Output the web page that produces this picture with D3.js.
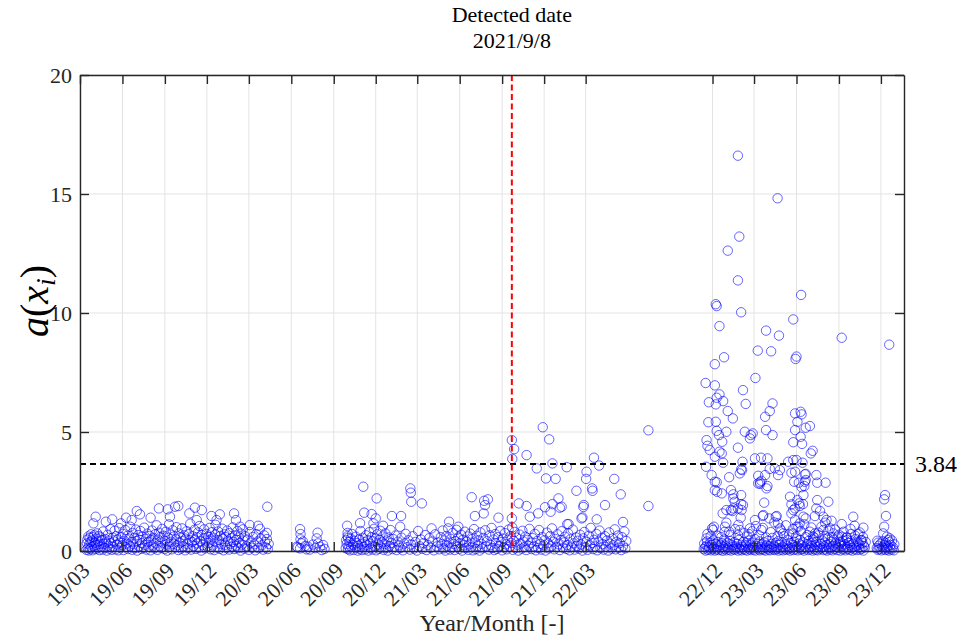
<!DOCTYPE html>
<html lang="en">
<head>
<meta charset="UTF-8" />
<title>Detected date</title>
<script src="https://cdnjs.cloudflare.com/ajax/libs/d3/7.8.5/d3.min.js"></script>
<style>
  body, html { margin: 0; padding: 0; background: #fff; }
  svg { display: block; }
  text { font-family: "Liberation Serif", "Times New Roman", serif; fill: #262626; }
</style>
</head>
<body>
<svg width="958" height="641"></svg>
<script>
// observation time is given as days after startDate
const startDate = "2019-03-01";
const endDay = 1786;
const tickMonths = ["2019-03", "2019-06", "2019-09", "2019-12", "2020-03", "2020-06", "2020-09",
  "2020-12", "2021-03", "2021-06", "2021-09", "2021-12", "2022-03", "2022-12", "2023-03",
  "2023-06", "2023-09", "2023-12"];
const yTicks = [0, 5, 10, 15, 20];
const thresholdValue = 3.66;
const thresholdLabel = "3.84";
const detectedLabel = "2021/9/8";
const detectedDay = 936;

// 2019/03 - 2020/04
const p1High = [[34,1.44],[29,1.16],[56,1.23],[70,1.33],[89,1.16],[100,1.40],[112,1.30],[123,1.68],[130,1.54],
  [153,1.40],[171,1.79],[190,1.75],[195,1.44],[206,1.86],[213,1.89],[237,1.58],[249,1.82],[253,1.30],[264,1.72],
  [285,1.47],[296,1.30],[303,1.54],[334,1.58],[338,1.30],[347,1.02],[368,1.09],[386,1.06],[406,1.86],[405,0.76]];
const p1Low = [[14,0.05],[15,0.32],[16,0.48],[17,0.12],[18,0.61],[19,0.02],[20,0.27],[21,0.55],[22,0.09],[23,0.38],
  [24,0.70],[25,0.15],[26,0.44],[27,0.03],[28,0.58],[30,0.21],[31,0.66],[32,0.35],[33,0.08],[35,0.52],[36,0.25],
  [37,0.74],[38,0.11],[40,0.41],[41,0.63],[42,0.04],[43,0.30],[45,0.57],[46,0.18],[48,0.46],[49,0.06],[50,0.82],
  [52,0.29],[53,0.13],[55,0.50],[57,0.36],[58,0.02],[60,0.68],[61,0.22],[63,0.44],[64,0.10],[66,0.92],[67,0.33],
  [69,0.05],[71,0.56],[72,0.19],[74,0.40],[75,0.85],[77,0.07],[78,0.62],[80,0.27],[82,0.48],[83,0.03],[85,0.96],
  [86,0.35],[88,0.14],[90,0.58],[91,0.24],[93,0.72],[94,0.04],[96,0.43],[98,0.88],[99,0.16],[101,0.31],[103,0.64],
  [104,0.08],[106,0.52],[108,0.21],[109,1.02],[111,0.37],[113,0.05],[114,0.76],[116,0.28],[118,0.55],[119,0.12],
  [121,0.90],[123,0.42],[124,0.02],[126,0.67],[128,0.19],[129,0.47],[131,0.84],[133,0.09],[134,0.33],[136,0.60],
  [138,0.14],[139,0.98],[141,0.26],[143,0.51],[144,0.06],[146,0.73],[148,0.38],[149,0.17],[151,0.63],[153,0.03],
  [154,0.45],[156,0.86],[158,0.23],[159,0.54],[161,0.11],[163,0.70],[164,0.32],[166,1.08],[168,0.05],[169,0.48],
  [171,0.77],[173,0.20],[174,0.59],[176,0.13],[178,0.93],[179,0.36],[181,0.64],[183,0.08],[184,0.42],[186,0.81],
  [188,0.27],[189,0.02],[191,0.56],[193,1.12],[194,0.18],[196,0.69],[198,0.39],[199,0.07],[201,0.87],[203,0.30],
  [204,0.61],[206,0.15],[208,0.49],[209,1.00],[211,0.24],[213,0.04],[214,0.74],[216,0.35],[218,0.57],[219,0.10],
  [221,0.95],[223,0.41],[224,0.19],[226,0.66],[228,0.03],[229,0.52],[231,0.83],[233,0.28],[234,0.12],[236,0.71],
  [238,0.45],[239,1.15],[241,0.06],[243,0.38],[244,0.62],[246,0.21],[248,0.89],[249,0.47],[251,0.09],[253,0.58],
  [254,0.32],[256,0.78],[258,0.14],[259,1.05],[261,0.40],[263,0.02],[264,0.67],[266,0.25],[268,0.53],[269,0.91],
  [271,0.11],[273,0.44],[274,0.72],[276,0.18],[278,0.60],[279,0.34],[281,0.97],[283,0.07],[284,0.49],[286,0.79],
  [288,0.23],[289,0.56],[291,0.04],[293,0.68],[294,1.10],[296,0.37],[298,0.15],[299,0.82],[301,0.46],[303,0.09],
  [304,0.63],[306,0.29],[308,0.94],[309,0.51],[311,0.03],[313,0.70],[314,0.26],[316,0.58],[318,0.13],[319,0.86],
  [321,0.42],[323,0.06],[324,0.75],[326,0.31],[328,0.54],[329,0.19],[331,0.99],[333,0.38],[334,0.08],[336,0.65],
  [338,0.22],[339,0.47],[341,0.84],[343,0.12],[344,0.57],[346,0.33],[348,0.02],[349,0.73],[351,0.27],[353,0.91],
  [354,0.44],[356,0.10],[358,0.62],[361,0.20],[363,0.48],[366,0.05],[368,0.80],[370,0.35],[373,0.14],[375,0.59],
  [378,0.28],[380,0.03],[382,0.71],[385,0.40],[387,0.12],[390,0.93],[392,0.52],[394,0.24],[397,0.06],[399,0.66],
  [401,0.37],[403,0.15],[405,0.50],[407,0.08],[409,0.30]];

// 2020/06 - 2020/08
const p2 = [[470,0.18],[472,0.15],[477,0.92],[477,0.11],[478,0.71],[478,0.49],[480,0.32],[483,0.40],[488,0.21],
  [491,0.07],[494,0.18],[498,0.06],[505,0.27],[510,0.12],[513,0.53],[515,0.77],[516,0.32],[520,0.18],[524,0.04],
  [527,0.25],[530,0.09]];

// 2020/09 - 2022/05
const p3High = [[579,1.06],[580,0.76],[581,0.55],[607,1.17],[614,2.70],[616,1.61],[632,1.55],[636,1.16],[641,1.37],
  [643,2.21],[657,1.06],[676,1.47],[694,1.02],[696,1.47],[716,2.63],[717,2.45],[718,2.07],[741,2.00],[762,0.95],
  [800,1.23],[820,1.02],[849,2.26],[856,1.47],[876,2.11],[884,2.17],[878,1.93],[875,1.58],[907,1.40],[936,4.66],
  [941,4.28],[937,3.87],[936,1.37],[968,4.03],[951,2.00],[968,1.89],[975,1.44],[990,3.47],[1003,5.20],[1017,4.69],
  [1024,3.68],[1010,3.05],[1031,3.03],[1055,3.52],[1037,2.21],[1024,1.97],[1008,1.84],[1040,1.82],[1020,1.65],
  [993,1.58],[1076,2.53],[1110,2.63],[1111,2.53],[1098,3.33],[1097,3.03],[1114,3.92],[1125,3.59],[1158,3.03],
  [1172,2.38],[1138,1.93],[1092,1.93],[1091,1.85],[1059,1.13],[1089,1.41],[1120,1.33],[1177,1.22],[1044,1.86],
  [1087,1.37],[1056,1.13],[1232,5.07],[1232,1.89]];
const p3Low = [[576,0.12],[577,0.45],[578,0.30],[580,0.62],[581,0.08],[582,0.20],[584,0.38],[585,0.03],[587,0.51],
  [588,0.17],[590,0.71],[592,0.26],[593,0.05],[595,0.43],[597,0.14],[598,0.60],[600,0.33],[602,0.02],[603,0.22],
  [605,0.49],[606,0.10],[608,0.84],[610,0.28],[611,0.04],[613,0.55],[615,0.18],[617,0.37],[618,0.07],[620,0.66],
  [622,0.24],[624,0.46],[625,0.02],[627,0.79],[629,0.31],[630,0.12],[632,0.58],[634,0.06],[635,0.41],[637,0.93],
  [639,0.19],[641,0.52],[642,0.03],[644,0.70],[646,0.27],[648,0.09],[649,0.47],[651,0.85],[653,0.15],[655,0.36],
  [656,0.61],[658,0.05],[660,0.29],[662,0.74],[663,0.13],[665,0.44],[667,0.02],[669,0.57],[671,0.21],[673,0.88],
  [675,0.34],[677,0.08],[679,0.50],[681,0.17],[684,0.65],[686,0.04],[689,0.39],[691,0.24],[694,0.12],[697,0.56],
  [700,0.03],[703,0.31],[706,0.72],[709,0.16],[712,0.45],[715,0.06],[718,0.27],[721,0.62],[724,0.10],[727,0.38],
  [730,0.02],[733,0.84],[736,0.20],[739,0.48],[742,0.09],[745,0.33],[748,0.67],[751,0.04],[754,0.25],[757,0.54],
  [760,0.13],[764,0.40],[767,0.03],[770,0.70],[773,0.19],[776,0.36],[779,0.07],[782,0.58],[784,0.28],[786,0.86],
  [788,0.11],[790,0.44],[792,0.02],[794,0.63],[796,0.22],[798,0.95],[800,0.35],[802,0.06],[804,0.51],[806,0.15],
  [808,0.76],[810,0.30],[812,0.04],[814,0.42],[816,0.89],[818,0.18],[820,0.57],[822,0.09],[824,0.33],[826,0.68],
  [828,0.02],[830,0.47],[832,0.24],[834,0.81],[836,0.12],[838,0.39],[840,0.61],[842,0.05],[844,0.28],[846,0.73],
  [848,0.16],[850,0.50],[852,0.03],[854,0.92],[856,0.35],[858,0.08],[860,0.64],[862,0.21],[864,0.45],[866,0.02],
  [868,0.78],[870,0.30],[872,0.11],[874,0.55],[878,0.87],[880,0.19],[882,0.41],[886,0.06],[888,0.66],[890,0.25],
  [892,0.97],[894,0.13],[896,0.48],[898,0.04],[900,0.71],[902,0.32],[904,0.09],[906,0.58],[909,0.20],[911,0.84],
  [913,0.37],[915,0.03],[917,0.52],[919,0.15],[921,0.75],[923,0.28],[925,0.07],[927,0.46],[929,0.90],[931,0.18],
  [933,0.62],[935,0.34],[937,0.99],[938,0.05],[940,0.43],[942,0.80],[944,0.12],[946,0.56],[948,0.26],[950,0.02],
  [953,0.69],[955,0.31],[957,0.10],[959,0.85],[961,0.40],[963,0.16],[965,0.60],[967,0.04],[970,0.47],[972,0.22],
  [974,0.93],[977,0.35],[979,0.08],[981,0.54],[984,0.19],[986,0.72],[988,0.03],[991,0.42],[993,0.13],[995,0.88],
  [998,0.30],[1000,0.06],[1002,0.58],[1005,0.24],[1007,0.45],[1009,0.02],[1012,0.77],[1014,0.33],[1016,0.11],
  [1019,0.62],[1021,0.20],[1023,0.95],[1026,0.39],[1028,0.07],[1030,0.51],[1033,0.17],[1035,0.70],[1037,0.28],
  [1040,0.04],[1042,0.46],[1044,0.83],[1047,0.14],[1049,0.36],[1051,0.60],[1054,0.09],[1056,0.25],[1058,0.74],
  [1061,0.03],[1063,0.49],[1065,0.18],[1068,0.90],[1070,0.32],[1072,0.06],[1075,0.57],[1077,0.21],[1079,0.43],
  [1082,0.10],[1084,0.68],[1086,0.27],[1089,0.02],[1091,0.53],[1093,0.80],[1096,0.15],[1098,0.38],[1100,0.05],
  [1103,0.64],[1105,0.23],[1107,0.97],[1110,0.34],[1112,0.08],[1114,0.47],[1117,0.19],[1119,0.72],[1121,0.03],
  [1124,0.40],[1126,0.86],[1128,0.12],[1131,0.55],[1133,0.29],[1135,0.06],[1138,0.62],[1140,0.17],[1142,0.44],
  [1145,0.02],[1147,0.78],[1149,0.31],[1152,0.10],[1154,0.52],[1156,0.24],[1159,0.91],[1161,0.07],[1163,0.39],
  [1166,0.65],[1168,0.14],[1170,0.33],[1173,0.04],[1175,0.58],[1177,0.21],[1180,0.82],[1182,0.11],[1184,0.42]];

// 2022/11 - 2023/10
const p4High = [[1426,16.61],[1512,14.82],[1429,13.21],[1404,12.62],[1426,11.37],[1563,10.76],[1378,10.37],[1380,10.29],
  [1433,10.03],[1386,9.45],[1546,9.73],[1487,9.26],[1515,9.05],[1651,8.96],[1469,8.42],[1498,8.39],[1553,8.17],
  [1551,8.07],[1396,8.14],[1376,7.85],[1464,7.27],[1356,7.06],[1376,6.96],[1437,6.76],[1380,6.44],[1386,6.58],
  [1363,6.25],[1378,6.16],[1394,6.30],[1443,6.18],[1501,6.20],[1495,5.88],[1404,5.88],[1415,5.57],[1485,5.64],
  [1550,5.78],[1562,5.85],[1564,5.74],[1555,5.43],[1573,5.18],[1582,5.25],[1362,5.41],[1378,5.43],[1380,5.05],
  [1385,4.87],[1401,5.01],[1441,5.01],[1454,4.87],[1458,4.94],[1452,4.73],[1487,5.08],[1501,4.87],[1550,5.08],
  [1562,4.80],[1546,4.57],[1565,4.50],[1358,4.66],[1360,4.42],[1365,4.24],[1386,4.17],[1391,4.10],[1392,4.59],
  [1376,3.96],[1426,4.34],[1584,4.10],[1588,4.21],[1463,3.89],[1476,3.92],[1490,3.89],[1535,3.75],[1546,3.82],
  [1566,3.71],[1553,3.82],[1357,3.54],[1394,3.71],[1436,3.75],[1369,3.19],[1376,2.91],[1380,2.89],[1407,3.10],
  [1430,3.26],[1435,3.40],[1433,3.43],[1470,3.16],[1474,2.89],[1485,3.19],[1490,2.73],[1495,3.45],[1506,3.47],
  [1517,3.40],[1513,3.19],[1542,3.29],[1548,2.91],[1558,2.87],[1571,2.91],[1573,3.24],[1596,3.19],[1598,2.87],
  [1616,2.87],[1550,3.33],[1571,3.22],[1573,2.98],[1570,2.73],[1564,2.68],[1376,2.56],[1381,2.49],[1391,2.42],
  [1411,2.56],[1416,2.38],[1433,2.35],[1419,2.07],[1416,2.21],[1393,1.58],[1411,1.72],[1416,1.79],[1433,1.97],
  [1434,1.72],[1437,1.93],[1426,1.79],[1414,1.68],[1401,1.72],[1432,1.40],[1483,2.03],[1480,1.47],[1481,1.51],
  [1494,1.37],[1510,1.47],[1508,1.44],[1513,1.16],[1463,1.30],[1488,2.63],[1474,2.82],[1477,2.95],[1470,2.84],
  [1539,2.28],[1542,1.96],[1550,1.79],[1555,2.14],[1559,2.00],[1568,2.35],[1567,1.97],[1573,1.37],[1560,1.89],
  [1546,1.72],[1568,1.44],[1550,1.30],[1560,1.16],[1557,1.02],[1542,1.58],[1598,2.14],[1622,2.07],[1596,1.79],
  [1604,1.68],[1593,1.47],[1611,1.44],[1629,1.27],[1651,1.13],[1615,1.19],[1618,1.30],[1676,1.44],[1679,1.06],
  [1698,0.98],[1687,0.71],[1671,0.71]];
const p4Mid = [[1358,0.53],[1372,0.88],[1401,1.19],[1407,0.81],[1374,1.02],[1367,0.63],[1398,1.02],[1430,0.88],
  [1426,0.67],[1452,0.95],[1450,0.71],[1477,0.88],[1517,0.95],[1524,0.74],[1546,0.74],[1553,1.02],[1633,0.74],
  [1626,0.95],[1611,0.88],[1593,0.74],[1589,0.60],[1582,0.81],[1647,0.39],[1663,0.46],[1652,0.60],[1694,0.46],
  [1360,0.72],[1370,0.95],[1382,0.64],[1390,0.58],[1397,0.80],[1410,0.68],[1420,0.92],[1427,1.10],[1440,0.75],
  [1447,0.61],[1457,0.83],[1465,1.05],[1472,0.66],[1480,0.97],[1487,0.57],[1497,0.79],[1505,1.20],[1512,0.63],
  [1520,0.86],[1530,1.08],[1537,0.70],[1545,0.92],[1552,0.60],[1562,0.84],[1570,1.12],[1577,0.67],[1585,0.99],
  [1592,0.56],[1600,0.77],[1607,1.02],[1615,0.62],[1622,0.85],[1630,0.58],[1637,0.90],[1645,0.68],[1655,0.81],
  [1662,0.57],[1670,0.93],[1680,0.64],[1690,0.78],[1697,0.59]];
const p4Low = [[1352,0.08],[1353,0.31],[1355,0.15],[1356,0.02],[1358,0.22],[1359,0.40],[1361,0.05],[1363,0.18],
  [1364,0.11],[1366,0.34],[1368,0.03],[1369,0.26],[1371,0.09],[1373,0.45],[1374,0.14],[1376,0.02],[1378,0.30],
  [1379,0.07],[1381,0.19],[1383,0.38],[1384,0.04],[1386,0.12],[1388,0.25],[1389,0.06],[1391,0.33],[1393,0.01],
  [1394,0.17],[1396,0.48],[1398,0.09],[1399,0.22],[1401,0.03],[1403,0.35],[1404,0.13],[1406,0.06],[1408,0.28],
  [1409,0.42],[1411,0.02],[1413,0.16],[1414,0.24],[1416,0.08],[1418,0.37],[1419,0.05],[1421,0.19],[1423,0.11],
  [1424,0.30],[1426,0.02],[1428,0.46],[1429,0.14],[1431,0.07],[1433,0.26],[1434,0.03],[1436,0.18],[1438,0.39],
  [1439,0.10],[1441,0.05],[1443,0.23],[1444,0.32],[1446,0.02],[1448,0.15],[1449,0.44],[1451,0.08],[1453,0.27],
  [1454,0.04],[1456,0.12],[1458,0.35],[1459,0.19],[1461,0.06],[1463,0.50],[1464,0.02],[1466,0.21],[1468,0.13],
  [1469,0.31],[1471,0.07],[1473,0.40],[1474,0.03],[1476,0.17],[1478,0.09],[1479,0.28],[1481,0.05],[1483,0.36],
  [1484,0.14],[1486,0.02],[1488,0.24],[1489,0.11],[1491,0.43],[1493,0.06],[1494,0.19],[1496,0.03],[1498,0.30],
  [1499,0.12],[1501,0.55],[1503,0.07],[1504,0.22],[1506,0.04],[1508,0.34],[1509,0.15],[1511,0.09],[1513,0.41],
  [1514,0.02],[1516,0.26],[1518,0.13],[1519,0.06],[1521,0.37],[1523,0.18],[1524,0.03],[1526,0.62],[1528,0.10],
  [1529,0.29],[1531,0.05],[1533,0.21],[1534,0.47],[1536,0.08],[1538,0.14],[1539,0.02],[1541,0.33],[1543,0.11],
  [1544,0.25],[1546,0.04],[1548,0.39],[1549,0.16],[1551,0.07],[1553,0.52],[1554,0.20],[1556,0.03],[1558,0.31],
  [1559,0.12],[1561,0.45],[1563,0.06],[1564,0.23],[1566,0.09],[1568,0.36],[1569,0.02],[1571,0.17],[1573,0.58],
  [1574,0.11],[1576,0.28],[1578,0.04],[1579,0.42],[1581,0.14],[1583,0.07],[1584,0.33],[1586,0.21],[1588,0.02],
  [1589,0.49],[1591,0.10],[1593,0.26],[1594,0.05],[1596,0.38],[1598,0.16],[1599,0.03],[1601,0.66],[1603,0.22],
  [1604,0.08],[1606,0.30],[1608,0.13],[1609,0.44],[1611,0.04],[1613,0.19],[1614,0.35],[1616,0.07],[1618,0.25],
  [1619,0.02],[1621,0.53],[1623,0.12],[1624,0.29],[1626,0.06],[1628,0.40],[1629,0.15],[1631,0.03],[1633,0.22],
  [1634,0.47],[1636,0.09],[1638,0.32],[1639,0.18],[1641,0.04],[1643,0.61],[1644,0.13],[1646,0.27],[1648,0.02],
  [1649,0.36],[1651,0.20],[1653,0.07],[1654,0.43],[1656,0.11],[1658,0.28],[1659,0.03],[1661,0.55],[1663,0.16],
  [1664,0.09],[1666,0.34],[1668,0.05],[1669,0.24],[1671,0.41],[1673,0.12],[1674,0.02],[1676,0.30],[1678,0.18],
  [1679,0.07],[1681,0.50],[1683,0.22],[1684,0.04],[1686,0.37],[1688,0.14],[1689,0.27],[1691,0.06],[1693,0.45],
  [1694,0.10],[1696,0.33],[1698,0.02],[1699,0.21],[1701,0.15],[1703,0.38]];

// 2023/11 - 2023/12
const p5 = [[1754,8.67],[1745,2.35],[1743,2.17],[1747,1.47],[1743,1.02],[1741,0.74],[1755,0.53],[1752,0.46],
  [1730,0.35],[1728,0.43],[1727,0.12],[1729,0.05],[1731,0.22],[1733,0.08],[1735,0.30],[1737,0.03],[1739,0.17],
  [1740,0.41],[1742,0.10],[1744,0.26],[1745,0.04],[1746,0.34],[1748,0.14],[1749,0.60],[1750,0.07],[1751,0.21],
  [1753,0.02],[1754,0.37],[1756,0.11],[1757,0.25],[1759,0.06],[1760,0.44],[1762,0.15],[1764,0.03],[1765,0.28]];

const allPoints = [].concat(p1High, p1Low, p2, p3High, p3Low, p4High, p4Mid, p4Low, p5);

const svg = d3.select("svg");
const plot = { left: 80, right: 904, top: 75, bottom: 551 };
const axisColor = "#262626";

const day0 = d3.utcParse("%Y-%m-%d")(startDate);
const toDate = (d) => d3.utcDay.offset(day0, d);
const tickDates = tickMonths.map(d3.utcParse("%Y-%m"));

const x = d3.scaleUtc().domain([day0, toDate(endDay)]).range([plot.left, plot.right]);
const y = d3.scaleLinear().domain([0, 20]).range([plot.bottom, plot.top]);

// grid
const grid = svg.append("g").attr("stroke", "#e3e3e3").attr("stroke-width", 1);
grid.selectAll(".gx").data(tickDates).join("line").attr("class", "gx")
  .attr("x1", (d) => x(d)).attr("x2", (d) => x(d))
  .attr("y1", plot.top).attr("y2", plot.bottom);
grid.selectAll(".gy").data(yTicks).join("line").attr("class", "gy")
  .attr("x1", plot.left).attr("x2", plot.right)
  .attr("y1", (d) => y(d)).attr("y2", (d) => y(d));

// points
svg.append("g")
  .selectAll("circle")
  .data(allPoints)
  .join("circle")
  .attr("cx", (d) => x(toDate(d[0])))
  .attr("cy", (d) => y(d[1]))
  .attr("r", 4.7)
  .attr("fill", "none")
  .attr("stroke", "rgba(0,0,255,0.6)")
  .attr("stroke-width", 1);

// threshold
svg.append("line")
  .attr("x1", plot.left).attr("x2", plot.right)
  .attr("y1", y(thresholdValue)).attr("y2", y(thresholdValue))
  .attr("stroke", "#000").attr("stroke-width", 2).attr("stroke-dasharray", "6,4");
svg.append("text")
  .attr("x", plot.right + 11).attr("y", y(thresholdValue))
  .attr("dy", "0.35em").attr("font-size", 24)
  .style("fill", "#000")
  .text(thresholdLabel);

// detected date
const xDet = x(toDate(detectedDay));
svg.append("line")
  .attr("x1", xDet).attr("x2", xDet)
  .attr("y1", plot.top).attr("y2", plot.bottom)
  .attr("stroke", "#ff0000").attr("stroke-width", 2).attr("stroke-dasharray", "6,3.5");
svg.append("text").attr("x", xDet).attr("y", 22).attr("text-anchor", "middle")
  .attr("font-size", 22).style("fill", "#000").text("Detected date");
svg.append("text").attr("x", xDet).attr("y", 48).attr("text-anchor", "middle")
  .attr("font-size", 22).style("fill", "#000").text(detectedLabel);

// axes (box with inward ticks)
function styleAxis(g) {
  g.selectAll(".domain, .tick line").attr("stroke", axisColor).attr("stroke-width", 1.4);
}
svg.append("g").attr("transform", `translate(0,${plot.bottom})`)
  .call(d3.axisBottom(x).tickValues(tickDates).tickSize(-9).tickSizeOuter(0).tickFormat(""))
  .call(styleAxis);
svg.append("g").attr("transform", `translate(0,${plot.top})`)
  .call(d3.axisTop(x).tickValues(tickDates).tickSize(-9).tickSizeOuter(0).tickFormat(""))
  .call(styleAxis);
svg.append("g").attr("transform", `translate(${plot.left},0)`)
  .call(d3.axisLeft(y).tickValues(yTicks).tickSize(-9).tickSizeOuter(0).tickPadding(8))
  .call(styleAxis)
  .call((g) => g.selectAll("text").attr("font-size", 22)
    .attr("font-family", '"Liberation Serif", serif').style("fill", axisColor));
svg.append("g").attr("transform", `translate(${plot.right},0)`)
  .call(d3.axisRight(y).tickValues(yTicks).tickSize(-9).tickSizeOuter(0).tickFormat(""))
  .call(styleAxis);

// rotated month labels
const fmt = d3.utcFormat("%y/%m");
svg.append("g").selectAll("text").data(tickDates).join("text")
  .attr("transform", (d) => `translate(${x(d) + 11},${plot.bottom + 21}) rotate(-45)`)
  .attr("text-anchor", "end")
  .attr("font-size", 22)
  .text((d) => fmt(d));

// axis titles
svg.append("text")
  .attr("x", (plot.left + plot.right) / 2).attr("y", 631)
  .attr("text-anchor", "middle").attr("font-size", 24)
  .text("Year/Month [-]");

const yl = svg.append("text")
  .attr("transform", `translate(48,${(plot.top + plot.bottom) / 2 - 12}) rotate(-90)`)
  .attr("text-anchor", "middle").attr("font-size", 40).style("fill", "#000");
yl.append("tspan").attr("font-style", "italic").text("a");
yl.append("tspan").text("(");
yl.append("tspan").attr("font-style", "italic").text("x");
yl.append("tspan").attr("font-style", "italic").attr("font-size", 28).attr("dy", 7).text("i");
yl.append("tspan").attr("dy", -7).text(")");
</script>
</body>
</html>
